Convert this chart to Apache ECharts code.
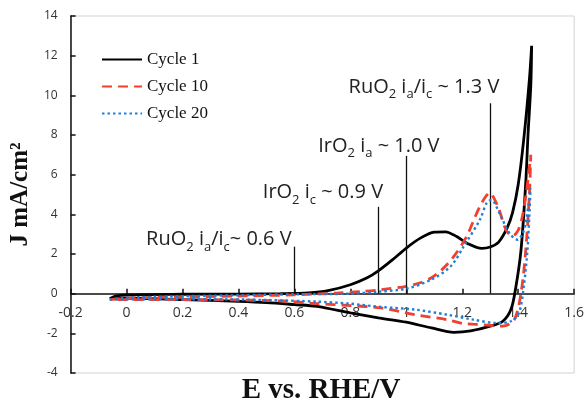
<!DOCTYPE html>
<html><head><meta charset="utf-8">
<script src="https://cdn.jsdelivr.net/npm/echarts@6/dist/echarts.min.js"></script>
<style>html,body{margin:0;padding:0;background:#fff}#c{width:587px;height:404px}</style>
</head><body><div id="c"></div>
<script>
const xTicks = {min: -0.2, max: 1.6, interval: 0.2};
const yTicks = {min: -4, max: 14, interval: 2};
const seriesNames = ['Cycle 1', 'Cycle 10', 'Cycle 20'];
const cycle1 = [[-0.06,-0.25],[-0.04,-0.12],[0.0,-0.06],[0.2,-0.03],[0.4,-0.02],[0.55,0.0],[0.65,0.04],[0.72,0.15],[0.8,0.45],[0.86,0.8],[0.9,1.15],[0.95,1.7],[1.0,2.3],[1.05,2.8],[1.1,3.1],[1.14,3.12],[1.18,2.88],[1.22,2.52],[1.27,2.28],[1.3,2.35],[1.33,2.6],[1.36,3.3],[1.38,4.1],[1.40,5.5],[1.42,7.8],[1.44,10.8],[1.448,12.5],
  [1.445,10.5],[1.435,8.0],[1.427,5.6],[1.41,2.2],[1.39,0.2],[1.374,-0.8],[1.345,-1.39],[1.30,-1.64],[1.23,-1.88],[1.17,-1.95],[1.09,-1.73],[1.0,-1.44],[0.9,-1.22],[0.8,-0.97],[0.68,-0.64],[0.6,-0.55],[0.5,-0.45],[0.4,-0.39],[0.2,-0.3],[0.0,-0.22],[-0.06,-0.25]];
const cycle10 = [[-0.06,-0.3],[0.0,-0.22],[0.2,-0.17],[0.4,-0.12],[0.6,-0.06],[0.75,0.03],[0.85,0.12],[0.91,0.2],[1.0,0.37],[1.05,0.55],[1.09,0.8],[1.13,1.25],[1.17,1.88],[1.216,2.9],[1.263,4.4],[1.298,5.07],[1.327,4.4],[1.357,3.2],[1.38,2.9],[1.40,3.2],[1.415,3.9],[1.43,5.2],[1.445,7.0],
  [1.44,5.0],[1.427,2.2],[1.41,0.03],[1.386,-1.31],[1.345,-1.64],[1.3,-1.6],[1.25,-1.55],[1.2,-1.5],[1.146,-1.31],[1.03,-1.06],[0.91,-0.72],[0.8,-0.6],[0.68,-0.5],[0.56,-0.37],[0.4,-0.32],[0.2,-0.3],[0.0,-0.3],[-0.06,-0.3]];
const cycle20 = [[-0.06,-0.3],[0.0,-0.2],[0.2,-0.13],[0.4,-0.08],[0.6,-0.03],[0.8,0.0],[0.9,0.1],[1.0,0.25],[1.088,0.7],[1.158,1.37],[1.205,2.38],[1.263,3.73],[1.287,4.57],[1.304,4.73],[1.333,4.06],[1.368,3.06],[1.398,2.72],[1.415,3.0],[1.427,3.56],[1.444,5.32],
  [1.44,4.0],[1.433,2.2],[1.42,0.37],[1.403,-0.97],[1.374,-1.39],[1.322,-1.48],[1.24,-1.31],[1.146,-1.06],[1.03,-0.8],[0.91,-0.67],[0.795,-0.5],[0.68,-0.4],[0.5,-0.32],[0.3,-0.28],[0.0,-0.28],[-0.06,-0.3]];
const markerX = [0.6, 0.9, 1.0, 1.3];
const markerTop = [2.37, 4.38, 6.95, 9.6];
const annotTexts = [
  '{n|RuO}{s|2}{n| i}{s|a}{n|/i}{s|c}{n|~ 0.6 V}',
  '{n|IrO}{s|2}{n| i}{s|c}{n| ~ 0.9 V}',
  '{n|IrO}{s|2}{n| i}{s|a}{n| ~ 1.0 V}',
  '{n|RuO}{s|2}{n| i}{s|a}{n|/i}{s|c}{n| ~ 1.3 V}'
];
const annotAt = [[0.33, 2.87], [0.702, 5.24], [0.902, 7.6], [1.063, 10.57]];

const chart = echarts.init(document.getElementById('c'), null, {renderer: 'canvas'});
const sans = 'Open Sans';
const option = {
  animation: false,
  backgroundColor: '#fff',
  grid: {left: 63, right: 11, top: 16, bottom: 31, show: true, borderColor: '#cfd3d6', borderWidth: 1},
  legend: {
    orient: 'vertical', left: 101, top: 51, padding: 0, itemWidth: 40, itemHeight: 12, itemGap: 10,
    itemStyle: {opacity: 0},
    textStyle: {fontFamily: 'Liberation Serif', fontSize: 17, color: '#111'},
    data: seriesNames
  },
  xAxis: {
    type: 'value', min: xTicks.min, max: xTicks.max, interval: xTicks.interval,
    axisLine: {onZero: false, lineStyle: {color: '#111', width: 1.5}},
    axisTick: {show: true, inside: true, length: 5, lineStyle: {color: '#111', width: 1.5}},
    axisLabel: {fontFamily: sans, fontSize: 14, color: '#333', margin: 12,
      formatter: v => String(Math.round(v * 10) / 10)},
    splitLine: {show: false}
  },
  yAxis: {
    type: 'value', min: yTicks.min, max: yTicks.max, interval: yTicks.interval,
    axisLine: {show: true, onZero: false, lineStyle: {color: '#111', width: 1.5}},
    axisTick: {show: true, inside: true, length: 5, lineStyle: {color: '#111', width: 1.5}},
    axisLabel: {fontFamily: sans, fontSize: 12, color: '#333', margin: 13},
    splitLine: {show: false},
    name: 'J mA/cm²', nameLocation: 'middle', nameGap: 36,
    nameTextStyle: {fontFamily: 'Liberation Serif', fontWeight: 'bold', fontSize: 25, color: '#111'}
  },
  series: [
    {name: seriesNames[0], type: 'line', data: cycle1, showSymbol: false, symbol: 'none', smooth: 0.3, z: 3,
      lineStyle: {color: '#000', width: 2.8, type: 'solid'}, itemStyle: {color: '#000'}},
    {name: seriesNames[1], type: 'line', data: cycle10, showSymbol: false, symbol: 'none', smooth: 0.3, z: 4,
      lineStyle: {color: '#f2402c', width: 2.8, type: [10, 6]}, itemStyle: {color: '#f2402c'}},
    {name: seriesNames[2], type: 'line', data: cycle20, showSymbol: false, symbol: 'none', smooth: 0.3, z: 5,
      lineStyle: {color: '#1e7fd8', width: 2.4, type: [2.5, 3]}, itemStyle: {color: '#1e7fd8'}},
    {name: 'markers', type: 'line', data: [], silent: true,
      markLine: {silent: true, symbol: 'none', label: {show: false},
        lineStyle: {color: '#111', width: 1.3, type: 'solid'},
        data: markerX.map((x, i) => [{coord: [x, 0]}, {coord: [x, markerTop[i]]}])}}
  ]
};
chart.setOption(option);
// move the x axis (line, ticks, labels) up to cross at J = 0
const pZero = chart.convertToPixel({gridIndex: 0}, [xTicks.min, 0]);
const pBottom = chart.convertToPixel({gridIndex: 0}, [xTicks.min, yTicks.min]);
const graphics = annotTexts.map((t, i) => {
  const p = chart.convertToPixel({gridIndex: 0}, annotAt[i]);
  return {type: 'text', x: p[0], y: p[1], style: {text: t, align: 'center', verticalAlign: 'middle',
    rich: {n: {fontFamily: sans, fontSize: 20, fill: '#222', verticalAlign: 'bottom', lineHeight: 26},
           s: {fontFamily: sans, fontSize: 13, fill: '#222', verticalAlign: 'bottom', lineHeight: 20, padding: [0,0,-4,0]}}}};
});
graphics.push({type: 'text', x: 321, y: 405, style: {text: 'E vs. RHE/V', font: 'bold 29px "Liberation Serif"', fill: '#111', align: 'center', verticalAlign: 'bottom'}});
chart.setOption({xAxis: {offset: -(pBottom[1] - pZero[1])}, graphic: graphics});
</script></body></html>
